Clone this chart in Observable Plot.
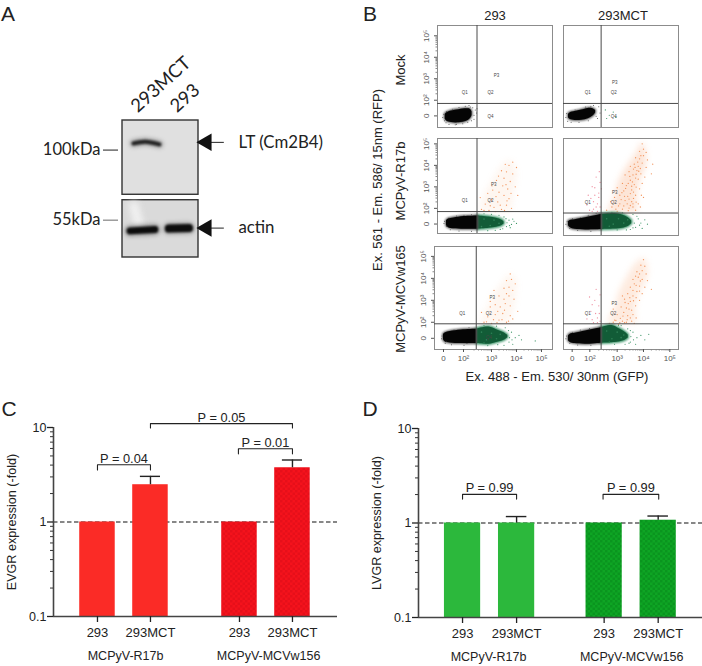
<!DOCTYPE html>
<html><head><meta charset="utf-8">
<script src="https://cdn.jsdelivr.net/npm/d3@7"></script>
<script src="https://cdn.jsdelivr.net/npm/@observablehq/plot@0.6"></script>
<style>
html,body{margin:0;padding:0;background:#fff}
#root{position:relative;width:702px;height:666px;overflow:hidden;font-family:"Liberation Sans",Arial,sans-serif;color:#222}
.lab{position:absolute;white-space:nowrap;line-height:1}
</style></head><body><div id="root">
<svg width="0" height="0" style="position:absolute"><defs>
<pattern id="checkRed" width="5" height="5" patternUnits="userSpaceOnUse"><rect width="5" height="5" fill="#f5121c"/><rect width="2.5" height="2.5" fill="#e60f1a"/><rect x="2.5" y="2.5" width="2.5" height="2.5" fill="#e60f1a"/></pattern>
<pattern id="checkGreen" width="5" height="5" patternUnits="userSpaceOnUse"><rect width="5" height="5" fill="#0ea524"/><rect width="2.5" height="2.5" fill="#0a951f"/><rect x="2.5" y="2.5" width="2.5" height="2.5" fill="#0a951f"/></pattern>
</defs></svg>
</div>
<script>
const root=document.getElementById("root");
function place(el,left,top){el.style.position="absolute";el.style.left=left+"px";el.style.top=top+"px";root.append(el);}
function label(t,x,y,size,rot=0,font){const s=document.createElement("span");s.className="lab";s.textContent=t;s.style.left=x+"px";s.style.top=y+"px";s.style.fontSize=size+"px";if(font)s.style.fontFamily=font;s.style.transform=`translate(-50%,-50%) rotate(${rot}deg)`;root.append(s);}
const base={fontFamily:"Liberation Sans, Arial, sans-serif",background:"transparent",overflow:"visible"};

/* ---------- A: western blot ---------- */
const blots=[{top:128.7,bottom:68.3,fill:"#e0e0e0"},{top:65.2,bottom:40,fill:"#dadada"}];
const bandLT=[[0.29,105.9],[0.6,107.4],[0.97,105]];
const bandActin1=[[0.2,50.2],[0.85,50.8]];
const bandActin2=[[1.22,51.2],[1.75,51.4]];
const actinSmear=[[0.3,62],[0.42,54]];
const markers=[{kDa:100,name:"100kDa",stroke:"#333"},{kDa:55,name:"55kDa",stroke:"#777"}];
const targets=[{kDa:106.8,name:"LT (Cm2B4)"},{kDa:51.4,name:"actin"}];
const lanes=[{name:"293MCT",lane:0.3},{name:"293",lane:1.33}];
const laneLabelKDa=142;
const aFont="Lato, 'Noto Sans', sans-serif";
const shadow=(b,w)=>Plot.line(b,{x:d=>d[0],y:d=>d[1],stroke:"#555",strokeOpacity:.55,strokeWidth:w,strokeLinecap:"round",curve:"catmull-rom",imageFilter:"blur(2px)"});
place(Plot.plot({width:350,height:290,marginLeft:122,marginRight:152,marginTop:120,marginBottom:33,
 style:{...base,fontFamily:aFont},
 x:{domain:[0,2],axis:null},y:{type:"log",domain:[40,128.7],axis:null},
 marks:[
  Plot.rect(blots,{x1:0,x2:2,y1:"bottom",y2:"top",fill:"fill",stroke:"#333",strokeWidth:1.4}),
  Plot.line(actinSmear,{x:d=>d[0],y:d=>d[1],stroke:"#f0f0f0",strokeWidth:10,imageFilter:"blur(3px)"}),
  shadow(bandLT,7),shadow(bandActin1,11),shadow(bandActin2,11),
  Plot.line(bandLT,{x:d=>d[0],y:d=>d[1],stroke:"#222",strokeWidth:4,strokeLinecap:"round",curve:"catmull-rom",imageFilter:"blur(0.9px)"}),
  Plot.line(bandActin1,{x:d=>d[0],y:d=>d[1],stroke:"#0c0c0c",strokeWidth:7,strokeLinecap:"round",imageFilter:"blur(0.9px)"}),
  Plot.line(bandActin2,{x:d=>d[0],y:d=>d[1],stroke:"#0c0c0c",strokeWidth:8,strokeLinecap:"round",imageFilter:"blur(0.9px)"}),
  Plot.ruleY(markers,{y:"kDa",x1:-0.5,x2:-0.105,stroke:"stroke",strokeWidth:1.1}),
  Plot.text(markers,{y:"kDa",x:-0.58,text:"name",textAnchor:"end",fontSize:16.5,fill:"#222"}),
  Plot.ruleY(targets,{y:"kDa",x1:2.3,x2:2.68,stroke:"#222",strokeWidth:1}),
  Plot.dot(targets,{y:"kDa",x:2.21,symbol:"triangle",rotate:-90,r:6.5,fill:"#111",stroke:"none"}),
  Plot.text(targets,{y:"kDa",x:3.05,text:"name",textAnchor:"start",fontSize:16.8,fill:"#222"}),
  Plot.text(lanes,{x:"lane",y:laneLabelKDa,text:"name",textAnchor:"start",lineAnchor:"middle",rotate:-42,fontSize:18.5,fill:"#222"})
 ]}),0,0);

/* ---------- B: flow cytometry ---------- */
const decades=[2,3,4];
const minorSteps=[0.3,0.48,0.6,0.7,0.78,0.85,0.9,0.95];
const minor=decades.flatMap(d=>minorSteps.map(s=>d+s));
const tickNames=["0","10²","10³","10⁴","10⁵"];
const yTicksB=[1.27,2,3,4,5];
const xTicksLeft=[1.08,1.88,3,4,5];
const xTicksRight=[1.29,1.96,3,4,5];

const m1L={black:[[1.15,1.12,1.34],[1.22,1.02,1.42],[1.4,.96,1.5],[1.7,.95,1.56],[2,1.02,1.6],[2.15,1.14,1.58],[2.22,1.28,1.46]],
 grey:[[1.05,1.2],[1.12,1.05],[1.18,.95],[1.3,.87],[1.55,.86],[1.85,.9],[2.2,1.05],[2.3,1.3],[2.35,1.55],[2.25,1.65],[2.1,1.75],[1.95,1.72],[1.7,1.66],[1.45,1.58],[1.2,1.48],[2.42,1.6],[2.4,1.4],[1.09,1.35],[2.3,1.12],[2.05,.97],[2.15,1.68],[1.6,.88]],
 q:[[1.93,2.37,"Q1"],[2.96,2.37,"Q2"],[2.96,1.22,"Q4"],[3.2,3.16,"P3"]]};
const m1R={black:[[1.15,1.18,1.34],[1.22,1.1,1.42],[1.4,1.06,1.47],[1.65,1.07,1.54],[1.9,1.14,1.62],[2.08,1.26,1.6],[2.18,1.4,1.52]],
 grey:[[1.05,1.2],[1.12,1.02],[1.25,.98],[1.55,.97],[1.9,1.05],[2.2,1.25],[2.35,1.4],[2.3,1.7],[2.1,1.75],[1.8,1.68],[1.4,1.55],[1.08,1.38],[2.25,1.15],[2,1.72]],
 green:[[2.55,1.55],[2.7,1.3],[2.85,1.45],[2.6,1.15],[2.95,1.2]],
 q:[[1.88,2.37,"Q1"],[2.87,2.37,"Q2"],[2.87,1.25,"Q4"],[2.91,2.82,"P3"]]};
const r17L={black:[[1.2,1.2,1.42],[1.28,1.1,1.5],[1.5,1.05,1.55],[1.9,1.03,1.62],[2.45,1.03,1.65]],
 greenBlob:[[2.45,1.03,1.65],[2.9,1.07,1.6],[3.2,1.12,1.54],[3.42,1.2,1.45],[3.5,1.27,1.37]],
 green:[[3.6,1.15],[3.7,1.45],[3.8,1.25],[3.9,1.4],[3.5,1.6],[3.3,1.68],[3,1.72],[2.7,1.75],[3.45,1.05],[3.75,1.1],[4,1.3],[3.15,.98],[3.62,1.33],[3.72,1.2],[3.58,1.52],[3.85,1.5],[2.85,.96],[3.35,1.02]],
 light:[[2.7,1.5],[2.95,1.2],[3.1,1.45],[3.3,1.3],[2.6,1.15]],
 grey:[[1.1,1.3],[1.2,1.15],[1.35,1],[1.7,.95],[2.2,.93],[1.6,1.65],[1.3,1.55],[1.12,1.4],[1.9,1.68],[2.2,1.7]],
 orangeHull:[[1.85,2.5,3.8],[2.6,2.7,3.9],[3.2,3,4],[3.8,3.3,4],[4.2,3.6,3.8]],
 orange:[[2.6,1.95],[2.75,2.2],[2.9,1.9],[3,2.4],[3.1,2.05],[3.25,2.3],[3.4,1.95],[3.5,2.6],[3.6,2.15],[3.7,2.45],[2.85,2.7],[3.05,2.85],[3.3,2.75],[3.45,3.05],[3.65,2.9],[3.2,3.3],[3.5,3.4],[3.75,3.25],[3.85,3.6],[3.6,3.7],[3.4,3.75],[3.7,4],[3.85,4.15],[3.55,4.05],[3.95,3],[4.05,2.6],[2.55,2.5],[3.15,1.85],[3.8,2],[4,3.9],[2.7,1.9],[2.95,2.12],[3.18,2.55],[3.35,2.15],[3.52,1.9],[3.62,2.35],[3.78,2.7],[3.02,3.05],[3.28,3.5],[3.58,3.1]],
 q:[[1.93,2.35,"Q1"],[2.96,2.35,"Q2"],[3.09,3.11,"P3"]]};
const r17R={black:[[1.15,1.18,1.36],[1.22,1.08,1.42],[1.4,1.01,1.46],[1.8,.98,1.55],[2.4,1,1.7]],
 greenBlob:[[2.4,1,1.7],[2.9,1.02,1.75],[3.2,1.06,1.68],[3.42,1.14,1.55],[3.55,1.27,1.4]],
 green:[[3.7,1.1],[3.8,1.5],[3.9,1.3],[4.05,1.45],[3.6,1.7],[3.2,1.78],[2.8,1.8],[3.5,1],[3.95,1.05],[4.15,1.25],[3.65,1.3],[3.75,1.62],[3.6,1.08],[3.85,1.2],[3,.98],[3.35,.98]],
 light:[[2.6,1.5],[2.85,1.25],[3.05,1.5],[3.25,1.3],[2.7,1.15],[3.4,1.45]],
 grey:[[1.05,1.25],[1.2,1.05],[1.5,.95],[2,.92],[1.6,1.55],[1.3,1.5],[1.1,1.38],[1.9,1.66],[2.2,1.76]],
 orangeHull:[[1.8,2.6,3.8],[2.5,2.9,3.75],[3.2,3.05,3.85],[4,3.4,4.1],[4.6,3.75,4.1],[5,3.9,4]],
 orange:[[2.6,1.9],[2.8,2.05],[3,1.85],[3.1,2.2],[3.2,1.95],[3.3,2.35],[3.45,2],[3.55,2.3],[3.7,1.9],[3.8,2.2],[2.9,2.5],[3.1,2.6],[3.25,2.8],[3.4,2.55],[3.55,2.85],[3.7,2.6],[3.85,2.9],[3,2.95],[3.2,3.15],[3.35,3.05],[3.5,3.3],[3.65,3.1],[3.8,3.35],[3.95,3.15],[3.3,3.55],[3.45,3.7],[3.6,3.55],[3.75,3.75],[3.9,3.6],[4.05,3.45],[3.5,3.95],[3.65,4.05],[3.8,3.95],[3.95,4.1],[4.1,3.9],[3.7,4.35],[3.85,4.3],[4,4.45],[4.15,4.25],[3.85,4.65],[4,4.75],[4.1,4.6],[3.95,5],[4.35,4.05],[4.3,3.6],[2.75,2.3],[4,2.5],
  [2.95,1.95],[3.05,2.1],[3.15,2.4],[3.25,2.1],[3.38,2.2],[3.42,1.88],[3.5,2.12],[3.6,2.05],[3.62,2.45],[3.28,2.55],[3.18,2.72],[3.45,2.42],[3.5,2.68],[3.62,2.75],[3.32,2.92],[3.42,3.15],[3.55,3.02],[3.72,2.98],[3.48,3.48],[3.58,3.22],[3.7,3.4],[3.62,3.82],[3.72,3.58],[3.82,3.72],[3.68,3.9],[3.88,3.85],[3.78,4.15],[3.9,4.45],[3.6,2.2],[3.72,2.28],[3.88,2.05],[3.92,2.6]],
 pink:[[2.1,1.95],[2.25,2.2],[2,2.45],[2.3,2.7],[2.15,2.95],[2.35,3.2],[2.05,3],[2.2,3.45],[2.35,2.05],[1.85,2.15],[2.25,1.85],[1.95,1.9],[2.32,3.7],[2.1,2.3],[2.3,2.5],[2.2,2.05],[2.05,1.85],[2.15,2.6],[1.9,2.6],[2.4,2.9]],
 q:[[1.88,2.27,"Q1"],[2.87,2.27,"Q2"],[2.91,2.73,"P3"]]};
const w165L={black:[[1.08,1.2,1.44],[1.16,1.1,1.52],[1.35,1.06,1.58],[1.8,1.03,1.65],[2.39,1.03,1.68]],
 greenBlob:[[2.39,1.03,1.68],[2.9,1,1.78],[3.2,1.08,1.66],[3.5,1.18,1.52],[3.65,1.3,1.4]],
 green:[[3.7,1.1],[3.8,1.55],[3.95,1.3],[4.1,1.4],[3.55,1.75],[3.2,1.82],[2.7,1.85],[3.5,.95],[3.85,1],[4.2,1.2],[4.75,1.15],[3.72,1.3],[3.82,1.2],[3.68,1.62],[3.25,.98],[2.85,.94]],
 light:[[2.6,1.55],[2.8,1.2],[3,1.5],[3.2,1.25],[3.35,1.45],[2.7,1.05]],
 grey:[[1,1.25],[1.15,1.05],[1.4,.98],[1.9,.95],[1.5,1.65],[1.2,1.55],[1.02,1.38],[2.1,1.75]],
 orangeHull:[[1.95,2.5,3.7],[2.6,2.8,3.9],[3.3,3.1,4],[3.9,3.5,4],[4.2,3.7,3.8]],
 orange:[[2.7,2],[2.85,2.25],[3,1.95],[3.15,2.35],[3.3,2.1],[3.45,2.4],[3.6,2],[3.75,2.3],[2.95,2.7],[3.15,2.8],[3.35,2.7],[3.55,2.85],[3.75,2.75],[3.3,3.2],[3.5,3.05],[3.7,3.2],[3.9,3.05],[3.5,3.55],[3.7,3.6],[3.85,3.45],[3.6,3.9],[3.8,3.95],[3.95,3.75],[3.75,4.2],[4.05,2.5],[2.6,2.45],[2.95,2.95],[3.1,3.45],[2.8,2.02],[3.08,2.12],[3.22,1.98],[3.42,2.12],[3.52,2.55],[3.68,2.05],[3.85,2.15],[3.25,2.5],[3.6,3.3]],
 q:[[1.83,2.41,"Q1"],[2.89,2.41,"Q2"],[2.89,1.32,"Q4"],[3.03,3.11,"P3"]]};
const w165R={black:[[1.15,1.16,1.38],[1.22,1.08,1.46],[1.4,1.03,1.5],[1.8,1,1.6],[2.39,1.05,1.75]],
 greenBlob:[[2.39,1.05,1.75],[2.8,1.07,1.85],[3.05,1.1,1.72],[3.3,1.18,1.55],[3.42,1.28,1.42]],
 green:[[3.5,1.1],[3.6,1.55],[3.75,1.3],[3.9,1.4],[3.4,1.7],[3.05,1.85],[3.3,1],[3.7,1],[4.05,1.2],[4.2,1.45],[3.52,1.35],[3.62,1.2],[3.5,1.62],[3.15,1.85],[2.9,1],[3.45,1.05]],
 light:[[2.6,1.6],[2.8,1.25],[3,1.55],[3.15,1.3],[2.7,1.1],[3.25,1.42]],
 grey:[[1.05,1.25],[1.2,1.05],[1.5,.97],[2,.95],[1.6,1.65],[1.3,1.55],[1.08,1.38],[1.95,1.72]],
 orangeHull:[[1.95,2.6,3.75],[2.6,2.9,3.7],[3.3,3.05,3.85],[4,3.35,4.15],[4.6,3.65,4.15],[4.9,3.95,4.05]],
 orange:[[2.7,1.95],[2.9,2.1],[3.05,1.9],[3.2,2.05],[3.35,2],[3.5,2.2],[3.65,1.95],[3,2.35],[3.25,2.45],[3.45,2.6],[3.6,2.35],[3.15,2.7],[3.3,2.9],[3.5,2.95],[3.7,2.75],[3.85,3],[3.2,3.2],[3.4,3.3],[3.6,3.2],[3.75,3.4],[3.95,3.3],[3.5,3.6],[3.65,3.75],[3.85,3.65],[4.05,3.6],[3.6,3.95],[3.8,4.05],[3.95,3.95],[4.15,3.9],[3.75,4.3],[3.95,4.35],[4.1,4.2],[3.9,4.6],[4.05,4.55],[4,4.85],[4.3,3.5],[2.85,2.6],
  [2.85,2],[3.12,2.18],[3.28,1.98],[3.4,2.3],[3.1,1.98],[3.55,2.05],[3.72,2.2],[2.95,2.08],[3.22,2.28],[3.38,2.12],[3.42,2.85],[3.55,2.55],[3.35,2.65],[3.62,2.98],[3.28,3.05],[3.48,3.12],[3.72,3.12],[3.85,3.42],[3.6,3.45],[3.72,3.68],[3.88,3.88],[3.7,4.1],[3.85,4.2]],
 pink:[[2.1,1.98],[2.25,2.2],[2,2.5],[2.3,2.75],[2.15,3],[2.35,3.25],[2.05,2.8],[2.2,3.5],[2.35,2.05],[1.85,2.15],[2.25,1.98],[2.32,2.4],[1.95,3.15],[2.18,2.4],[2.05,2.12]],
 q:[[1.88,2.41,"Q1"],[2.85,2.41,"Q2"],[2.89,2.84,"P3"]]};

const gateXLeft=2.42, gateXRow3Left=2.39, gateXRight=2.39;
const flowX={left:[.84,5.44],row3Left:[.72,5.44],right:[.96,5.33]};
const flowY={r1:[.73,5.48],r2:[.83,5.25],r2b:[.72,5.25],r3:[.76,5.45]};

function flow(d,{left,top,w,h,xd,yd,gx,gy,xt,yAxis,xAxis,hullOpacity=.16}){
 const ml=24,mb=16,mt=1,mr=1;
 const marks=[Plot.frame({stroke:"#8c8c8c",strokeWidth:1})];
 if(d.orangeHull) marks.push(Plot.areaX(d.orangeHull,{y:r=>r[0],x1:r=>r[1],x2:r=>r[2],fill:"#f9a36e",fillOpacity:hullOpacity,curve:"catmull-rom",imageFilter:"blur(3px)"}));
 if(d.pink) marks.push(Plot.dot(d.pink,{x:r=>r[0],y:r=>r[1],r:.65,fill:"#ef8fa0",stroke:"none"}));
 if(d.orange) marks.push(Plot.dot(d.orange,{x:r=>r[0],y:r=>r[1],r:.65,fill:"#f2945c",stroke:"none"}));
 if(d.grey) marks.push(Plot.dot(d.grey,{x:r=>r[0],y:r=>r[1],r:.5,fill:"#444",stroke:"none"}));
 if(d.green) marks.push(Plot.dot(d.green,{x:r=>r[0],y:r=>r[1],r:.6,fill:"#3b9566",stroke:"none"}));
 if(d.greenBlob){
  marks.push(Plot.areaY(d.greenBlob,{x:r=>r[0],y1:r=>r[1],y2:r=>r[2],fill:"#3f966b",stroke:"#3f966b",strokeWidth:2.5,curve:"catmull-rom",imageFilter:"blur(1.3px)"}));
  marks.push(Plot.areaY(d.greenBlob,{x:r=>r[0],y1:r=>r[1],y2:r=>r[2],fill:"#125c37",curve:"catmull-rom",imageFilter:"blur(0.7px)"}));
  marks.push(Plot.dot(d.light,{x:r=>r[0],y:r=>r[1],r:.8,fill:"#2f8257",stroke:"none"}));
 }
 marks.push(Plot.areaY(d.black,{x:r=>r[0],y1:r=>r[1],y2:r=>r[2],fill:"#555",stroke:"#555",strokeWidth:2,curve:"catmull-rom",imageFilter:"blur(1px)"}));
 marks.push(Plot.areaY(d.black,{x:r=>r[0],y1:r=>r[1],y2:r=>r[2],fill:"#050505",curve:"catmull-rom",imageFilter:"blur(0.5px)"}));
 marks.push(Plot.ruleX([gx],{stroke:"#4a4a4a",strokeWidth:1}));
 marks.push(Plot.ruleY([gy],{stroke:"#4a4a4a",strokeWidth:1}));
 marks.push(Plot.text(d.q,{x:r=>r[0],y:r=>r[1],text:r=>r[2],fontSize:4.5,fill:"#444"}));
 if(yAxis){
  marks.push(Plot.axisY({ticks:yTicksB,tickFormat:(v,i)=>tickNames[i],tickSize:3,tickPadding:6,tickRotate:-90,fontSize:8,color:"#555",label:null}));
  marks.push(Plot.axisY({ticks:minor,tickFormat:()=>"",tickSize:1.5,color:"#888",label:null}));
 } else marks.push(Plot.axisY({ticks:[],label:null}));
 if(xAxis){
  marks.push(Plot.axisX({ticks:xt,tickFormat:(v,i)=>tickNames[i],tickSize:3,tickPadding:3,fontSize:8,color:"#555",label:null}));
  marks.push(Plot.axisX({ticks:minor,tickFormat:()=>"",tickSize:1.5,color:"#888",label:null}));
 } else marks.push(Plot.axisX({ticks:[],label:null}));
 const el=Plot.plot({width:w+ml+mr,height:h+mt+mb,marginLeft:ml,marginRight:mr,marginTop:mt,marginBottom:mb,style:base,
  x:{domain:xd,range:[ml,ml+w]},y:{domain:yd,range:[mt+h,mt]},marks});
 place(el,left-ml,top-mt);
}
flow(m1L,{left:437,top:25,w:115,h:102,xd:flowX.left,yd:flowY.r1,gx:gateXLeft,gy:1.85,xt:xTicksLeft,yAxis:true});
flow(m1R,{left:563,top:25,w:115,h:102,xd:flowX.right,yd:flowY.r1,gx:gateXRight,gy:1.85,xt:xTicksRight});
flow(r17L,{left:437,top:138,w:115,h:95,xd:flowX.left,yd:flowY.r2,gx:gateXLeft,gy:1.85,xt:xTicksLeft,yAxis:true,hullOpacity:.1});
flow(r17R,{left:563,top:138,w:115,h:97,xd:flowX.right,yd:flowY.r2b,gx:gateXRight,gy:1.77,xt:xTicksRight,hullOpacity:.28});
flow(w165L,{left:434,top:246,w:118,h:103,xd:flowX.row3Left,yd:flowY.r3,gx:gateXRow3Left,gy:1.93,xt:xTicksLeft,yAxis:true,xAxis:true,hullOpacity:.1});
flow(w165R,{left:563,top:246,w:115,h:103,xd:flowX.right,yd:flowY.r3,gx:gateXRight,gy:1.93,xt:xTicksRight,xAxis:true,hullOpacity:.22});

label("293",495,15,13);
label("293MCT",623,15,13);
label("Mock",400,70,13,-90);
label("MCPyV-R17b",400,181,13,-90);
label("MCPyV-MCVw165",400,299,13,-90);
label("Ex. 561 - Em. 586/ 15nm (RFP)",377,180,13,-90);
label("Ex. 488 - Em. 530/ 30nm (GFP)",557,376,13);

/* ---------- C, D: bar charts ---------- */
const barNames=["293","293MCT","293","293MCT"];
const groupNames=["MCPyV-R17b","MCPyV-MCVw156"];
const evgrValues=[1,2.48,1,3.75];
const evgrUpper=[null,3.04,null,4.53];
const lvgrValues=[1,1,1,1.07];
const lvgrUpper=[null,1.17,null,1.185];
const evgrBrackets=[
 {a:0,b:1,top:4.04,lowA:3.55,lowB:3.55,p:"P = 0.04"},
 {a:1,b:3.68,top:11,lowA:9.9,lowB:9.9,p:"P = 0.05"},
 {a:2.66,b:3.68,top:5.96,lowA:5.26,lowB:5.26,p:"P = 0.01"}];
const lvgrBrackets=[
 {a:0,b:1,top:2.01,lowA:1.79,lowB:1.79,p:"P = 0.99"},
 {a:2.6,b:3.63,top:2.01,lowA:1.79,lowB:1.79,p:"P = 0.99"}];
const minorY=[.2,.3,.4,.5,.6,.7,.8,.9,2,3,4,5,6,7,8,9];

function barPanel({left,top,width,height,ml,mr,mt,mb,xDomain,pos,values,upper,brackets,colors,yLabel,groupCenters}){
 const rows=values.map((v,i)=>({c:pos[i],v,u:upper[i],name:barNames[i],fill:colors[i]}));
 const hw=0.335;
 const bracketLines=brackets.flatMap((b,i)=>[[b.a,b.lowA,i],[b.a,b.top,i],[b.b,b.top,i],[b.b,b.lowB,i]]);
 const groups=groupNames.map((g,i)=>({g,c:groupCenters[i]}));
 const el=Plot.plot({width,height,marginLeft:ml,marginRight:mr,marginTop:mt,marginBottom:mb,style:base,
  x:{domain:xDomain},y:{type:"log",domain:[.1,10]},
  marks:[
   Plot.ruleY([1],{stroke:"#111",strokeWidth:1.2,strokeDasharray:"4.5,2.5"}),
   Plot.rectY(rows,{x1:d=>d.c-hw,x2:d=>d.c+hw,y1:.1,y2:"v",fill:"fill"}),
   Plot.ruleX(rows.filter(d=>d.u),{x:"c",y1:"v",y2:"u",stroke:"#222",strokeWidth:1.4}),
   Plot.ruleY(rows.filter(d=>d.u),{y:"u",x1:d=>d.c-.19,x2:d=>d.c+.19,stroke:"#222",strokeWidth:1.4}),
   Plot.ruleY([.1],{stroke:"#444",strokeWidth:1.6}),
   Plot.ruleX([xDomain[0]],{y1:.1,y2:10,stroke:"#444",strokeWidth:1.6}),
   Plot.axisY({ticks:[.1,1,10],tickFormat:d=>String(d),tickSize:6,tickPadding:1,fontSize:12.5,color:"#222",strokeWidth:1.3,
     label:yLabel,labelAnchor:"center",labelArrow:"none",labelOffset:46}),
   Plot.axisY({ticks:minorY,tickFormat:()=>"",tickSize:3,color:"#333",label:null}),
   Plot.axisX({ticks:pos,tickFormat:(v,i)=>barNames[i],tickSize:6,tickPadding:5,fontSize:13,color:"#222",strokeWidth:1.3,label:null}),
   Plot.text(groups,{x:"c",y:.1,text:"g",dy:39,fontSize:12.5,fill:"#222"}),
   Plot.line(bracketLines,{x:d=>d[0],y:d=>d[1],z:d=>d[2],stroke:"#222",strokeWidth:1.1}),
   Plot.text(brackets,{x:d=>(d.a+d.b)/2,y:"top",text:"p",lineAnchor:"bottom",dy:-2,fontSize:12.8,fill:"#222"})
  ]});
 el.querySelectorAll('[aria-label="y-axis label"] text').forEach(t=>t.setAttribute("font-size","12.6"));
 place(el,left,top);
}
barPanel({left:0,top:390,width:345,height:276,ml:53,mr:8,mt:37,mb:50,xDomain:[-.83,4.53],pos:[0,1,2.68,3.68],
 values:evgrValues,upper:evgrUpper,brackets:evgrBrackets,colors:["#fb2b26","#fb2b26","url(#checkRed)","url(#checkRed)"],
 yLabel:"EVGR expression (-fold)",groupCenters:[.53,3.23]});
barPanel({left:350,top:390,width:352,height:276,ml:68,mr:0,mt:38,mb:49,xDomain:[-.815,4.44],pos:[0,1,2.62,3.62],
 values:lvgrValues,upper:lvgrUpper,brackets:lvgrBrackets,colors:["#2cb83c","#2cb83c","url(#checkGreen)","url(#checkGreen)"],
 yLabel:"LVGR expression (-fold)",groupCenters:[.48,3.13]});

label("A",8,13,21);
label("B",370,13,21);
label("C",9,408,21);
label("D",370,408,21);
</script></body></html>
